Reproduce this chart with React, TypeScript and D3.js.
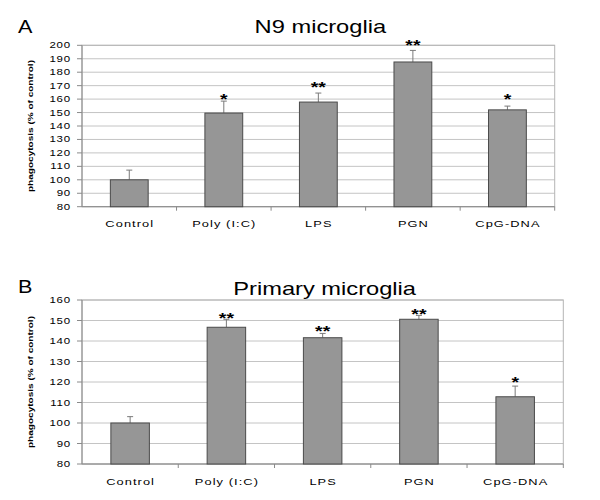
import React from "react";
import * as d3 from "d3";

const categories = ["Control", "Poly (I:C)", "LPS", "PGN", "CpG-DNA"];

const valuesA = [100, 149.6, 157.8, 187.6, 152];
const errorsA = [7.2, 8.9, 6.7, 8.6, 2.8];
const sigA = ["", "*", "**", "**", "*"];
const sigPosA = [0, 162, 171, 202, 162];
const ticksA = [80, 90, 100, 110, 120, 130, 140, 150, 160, 170, 180, 190, 200];

const valuesB = [100, 146.7, 141.6, 150.6, 112.8];
const errorsB = [3.1, 3.9, 2.1, 1.9, 5.2];
const sigB = ["", "**", "**", "**", "*"];
const sigPosB = [0, 152.3, 145.9, 154.3, 121.3];
const ticksB = [80, 90, 100, 110, 120, 130, 140, 150, 160];

const FONT = "'Liberation Sans', Arial, Helvetica, sans-serif";

function SText({ x, y, sx = 1, anchor = "start", size, weight = "normal", spacing = 0, children }: any) {
  return (
    <text
      transform={`translate(${x},${y}) scale(${sx},1)`}
      textAnchor={anchor}
      fontSize={size}
      fontWeight={weight}
      fontFamily={FONT}
      letterSpacing={spacing}
      fill="#000"
    >
      {children}
    </text>
  );
}

function Panel({ letter, title, titleY, letterY, values, errors, sig, sigPos, ticks, left, right, top, bottom, labelY }: any) {
  const y = d3.scaleLinear().domain([ticks[0], ticks[ticks.length - 1]]).range([bottom, top]);
  const x = d3.scaleBand().domain(categories).range([left, right]).paddingInner(0.6).paddingOuter(0.3);
  const band = (right - left) / categories.length;
  const bw = x.bandwidth();
  return (
    <g>
      <SText x={18} y={letterY} size={18} sx={1.2}>{letter}</SText>
      <SText x={(left + right) / 2 + 2} y={titleY} size={18.5} sx={1.28} anchor="middle">{title}</SText>
      {ticks.map((t: number) => (
        <line key={"g" + t} x1={left} x2={right} y1={y(t)} y2={y(t)} stroke="#c4c4c4" strokeWidth={1} />
      ))}
      <rect x={left} y={top} width={right - left} height={bottom - top} fill="none" stroke="#b4b4b4" strokeWidth={1} />
      <line x1={left} x2={left} y1={top} y2={bottom} stroke="#8a8a8a" />
      <line x1={left} x2={right} y1={bottom} y2={bottom} stroke="#8a8a8a" />
      {ticks.map((t: number) => (
        <g key={"t" + t}>
          <line x1={left - 5} x2={left} y1={y(t)} y2={y(t)} stroke="#8a8a8a" />
          <SText x={left - 11} y={y(t) + 3} size={8.5} sx={1.35} spacing={0.6} anchor="end">{t}</SText>
        </g>
      ))}
      {categories.map((c, i) => (
        <line key={"ct" + i} x1={left + band * (i + 1)} x2={left + band * (i + 1)} y1={bottom} y2={bottom + 4} stroke="#8a8a8a" />
      ))}
      {categories.map((c, i) => {
        const bx = x(c)!;
        const cx = bx + bw / 2;
        const v = values[i];
        const et = y(v + errors[i]);
        return (
          <g key={"b" + i}>
            <line x1={cx} x2={cx} y1={y(v)} y2={et} stroke="#7a7a7a" />
            <line x1={cx - 3} x2={cx + 3} y1={et} y2={et} stroke="#7a7a7a" />
            <rect x={bx} y={y(v)} width={bw} height={bottom - y(v)} fill="#969696" stroke="#4a4a4a" strokeWidth={1} />
            {sig[i] && (
              <SText x={cx} y={y(sigPos[i]) + 7.5} size={15} sx={1.3} anchor="middle" weight="bold">{sig[i]}</SText>
            )}
            <SText x={left + band * (i + 0.5) + 0.5} y={labelY} size={9.5} sx={1.35} spacing={0.8} anchor="middle">{c}</SText>
          </g>
        );
      })}
      <text
        transform={`translate(${33},${(top + bottom) / 2}) rotate(-90)`}
        textAnchor="middle"
        fontSize={7.5}
        fontWeight="bold"
        fontFamily={FONT}
        textLength={132}
        lengthAdjust="spacingAndGlyphs"
      >
        phagocytosis (% of control)
      </text>
    </g>
  );
}

export default function App() {
  return (
    <svg width={600} height={500} style={{ position: "absolute", left: 0, top: 0, background: "#fff" }}>
      <rect width={600} height={500} fill="#fff" />
      <Panel
        letter="A" title="N9 microglia" titleY={33} letterY={33}
        values={valuesA} errors={errorsA} sig={sigA} sigPos={sigPosA} ticks={ticksA}
        left={82} right={554.7} top={45.3} bottom={206.7} labelY={227}
      />
      <Panel
        letter="B" title="Primary microglia" titleY={295} letterY={293}
        values={valuesB} errors={errorsB} sig={sigB} sigPos={sigPosB} ticks={ticksB}
        left={82} right={563.3} top={300} bottom={464} labelY={485}
      />
    </svg>
  );
}
